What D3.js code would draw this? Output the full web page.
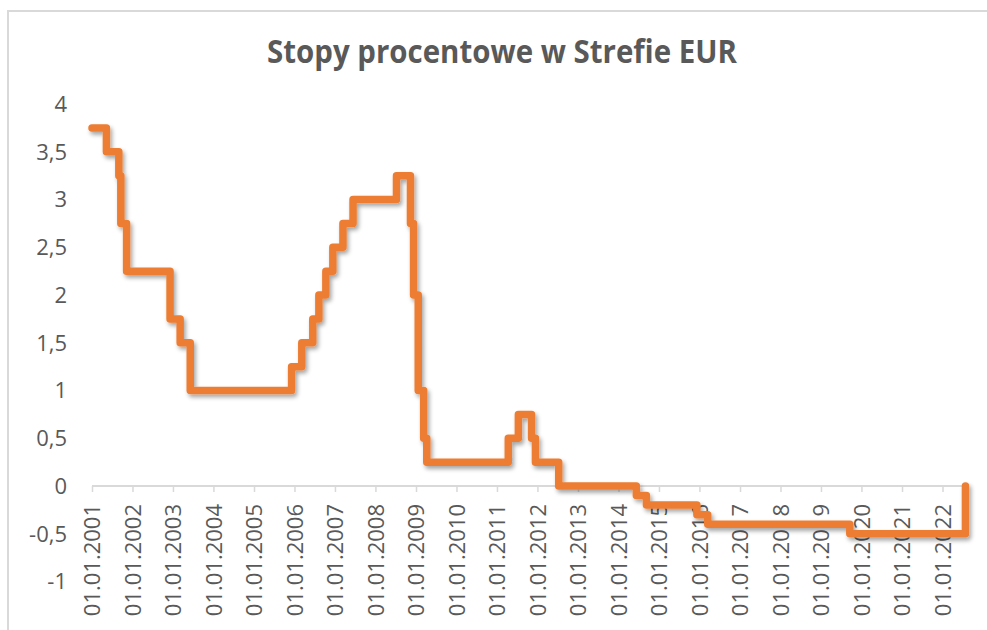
<!DOCTYPE html>
<html><head><meta charset="utf-8">
<script src="https://cdn.jsdelivr.net/npm/d3@7"></script>
<style>html,body{margin:0;padding:0;background:#fff;}svg{display:block;}</style>
</head><body>
<svg id="chart" width="987" height="630"></svg>
<script>
const title = "Stopy procentowe w Strefie EUR";
const changeDates = ["2001-01-01","2001-05-11","2001-08-31","2001-09-18","2001-11-09","2002-12-06","2003-03-07","2003-06-06","2005-12-06","2006-03-08","2006-06-15","2006-08-09","2006-10-11","2006-12-13","2007-03-14","2007-06-13","2008-07-09","2008-11-12","2008-12-10","2009-01-21","2009-03-11","2009-04-08","2011-04-13","2011-07-13","2011-11-09","2011-12-14","2012-07-11","2014-06-11","2014-09-10","2015-12-09","2016-03-16","2019-09-18","2022-07-27"];
const rates = [3.75,3.5,3.25,2.75,2.25,1.75,1.5,1.0,1.25,1.5,1.75,2.0,2.25,2.5,2.75,3.0,3.25,2.75,2.0,1.0,0.5,0.25,0.5,0.75,0.5,0.25,0.0,-0.1,-0.2,-0.3,-0.4,-0.5,0.0];
const yTicks = [-1,-0.5,0,0.5,1,1.5,2,2.5,3,3.5,4];
const xTickYears = d3.range(2001, 2023);

const parse = d3.timeParse("%Y-%m-%d");
const data = changeDates.map((d,i)=>({date: parse(d), v: rates[i]}));

const svg = d3.select("#chart");
const grey = "#595959";
const labelFont = "'Open Sans'";

// frame
svg.append("path").attr("d","M8,640 L8,11 L1000,11").attr("fill","none").attr("stroke","#d9d9d9").attr("stroke-width",2);

const x = d3.scaleTime().domain([new Date(2001,0,1), new Date(2022,0,1)]).range([92, 942.5]);
const y = d3.scaleLinear().domain([-1,4]).range([581.5, 104]);

// title
const t = svg.append("text").attr("x",502).attr("y",63).attr("text-anchor","middle")
  .attr("font-family","'Open Sans'").attr("font-weight",700).attr("font-size",33).attr("fill",grey).text(title);
const w = t.node().getComputedTextLength();
const sx = 470 / w;
t.attr("transform",`translate(502,0) scale(${sx},1) translate(-502,0)`);

// y axis labels
svg.append("g").selectAll("text").data(yTicks).join("text")
  .attr("x",67).attr("y",d=>y(d)).attr("dy","0.36em").attr("text-anchor","end")
  .attr("font-family",labelFont).attr("font-weight",400).attr("font-size",22).attr("fill",grey)
  .text(d=>String(d).replace(".",","));

// x axis
const xAxis = d3.axisBottom(x)
  .tickValues(xTickYears.map(yr=>new Date(yr,0,1)))
  .tickSize(6).tickSizeOuter(0)
  .tickFormat(d3.timeFormat("%d.%m.%Y"));
const gx = svg.append("g").attr("transform",`translate(0,${y(0)})`).call(xAxis);
gx.select(".domain").attr("d",`M${x(new Date(2001,0,1))},0H${x(data[data.length-1].date)}`).attr("stroke","#d9d9d9").attr("stroke-width",2);
gx.selectAll(".tick line").attr("stroke","#d9d9d9").attr("stroke-width",1.5);
gx.selectAll(".tick text")
  .attr("font-family",labelFont).attr("font-weight",400).attr("font-size",22).attr("fill",grey)
  .attr("transform","rotate(-90)").attr("text-anchor","end")
  .attr("x",-18).attr("y",0).attr("dy","0.36em");

// shadow filter
const defs = svg.append("defs");
const f = defs.append("filter").attr("id","shadow").attr("x","-10%").attr("y","-10%").attr("width","120%").attr("height","120%");
f.append("feDropShadow").attr("dx",2).attr("dy",3).attr("stdDeviation",2).attr("flood-color","#000").attr("flood-opacity",0.35);

const line = d3.line().x(d=>x(d.date)).y(d=>y(d.v)).curve(d3.curveStepAfter);
svg.append("path").datum(data).attr("d",line)
  .attr("fill","none").attr("stroke","#ED7D31").attr("stroke-width",7.5)
  .attr("stroke-linejoin","round").attr("stroke-linecap","round")
  .attr("filter","url(#shadow)");
</script>
</body></html>
